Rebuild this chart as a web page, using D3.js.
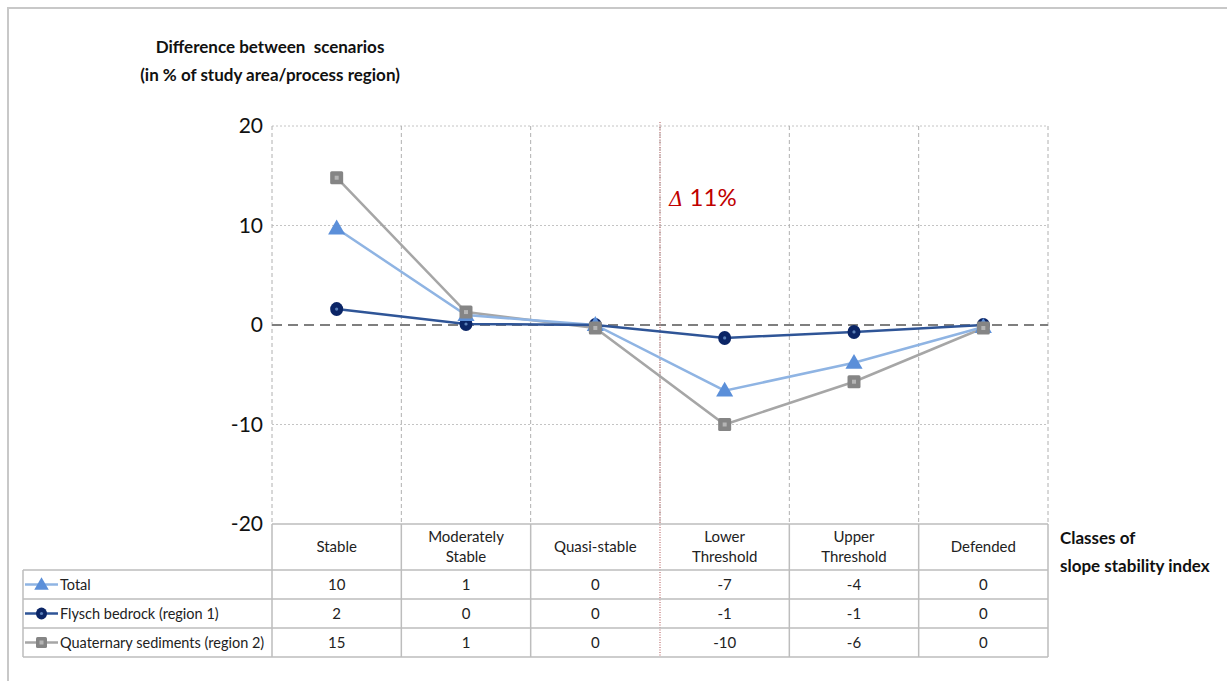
<!DOCTYPE html>
<html>
<head>
<meta charset="utf-8">
<script src="https://cdn.jsdelivr.net/npm/d3@7/dist/d3.min.js"></script>
<style>
  html, body { margin: 0; padding: 0; background: #fff; }
  svg { display: block; }
  text { font-family: Lato, "Noto Sans", "DejaVu Sans", sans-serif; }
</style>
</head>
<body>
<svg id="chart" width="1227" height="681"></svg>
<script>
// Slope stability classes along the x axis
const classes = [
  ["Stable"], ["Moderately", "Stable"], ["Quasi-stable"],
  ["Lower", "Threshold"], ["Upper", "Threshold"], ["Defended"]
];
const classKeys = ["Stable", "Moderately Stable", "Quasi-stable", "Lower Threshold", "Upper Threshold", "Defended"];

// Difference between scenarios, % of study area / process region
const totalValues      = [9.7, 1.0, 0.0, -6.6, -3.8, -0.2];
const flyschValues     = [1.6, 0.1, 0.0, -1.3, -0.7, 0.0];
const quaternaryValues = [14.8, 1.3, -0.3, -10.0, -5.7, -0.3];

const yTicks = [20, 10, 0, -10, -20];

const series = [
  { name: "Total", values: totalValues, line: "#8fb4e3", fill: "#5b8fd9", marker: "triangle" },
  { name: "Flysch bedrock (region 1)", values: flyschValues, line: "#2f5597", fill: "#0b2566", marker: "circle" },
  { name: "Quaternary sediments (region 2)", values: quaternaryValues, line: "#a6a6a6", fill: "#858585", marker: "square" }
];

const svg = d3.select("#chart");

// Outer frame
svg.append("path")
  .attr("d", "M8,681 L8,8 L1227,8")
  .attr("fill", "none").attr("stroke", "#c8c8c8").attr("stroke-width", 2);

const plot = { left: 272, right: 1048, top: 126, bottom: 524 };

const x = d3.scaleBand().domain(classKeys).range([plot.left, plot.right]);
const y = d3.scaleLinear().domain([-20, 20]).range([plot.bottom, plot.top]);

// Horizontal grid
svg.append("g").selectAll("line")
  .data(yTicks.filter(t => t !== 0 && t !== -20))
  .join("line")
  .attr("x1", plot.left).attr("x2", plot.right)
  .attr("y1", d => y(d)).attr("y2", d => y(d))
  .attr("stroke", "#c4c4c4").attr("stroke-width", 1).attr("stroke-dasharray", "2,2");

// Vertical grid at class boundaries
const bounds = classKeys.map(k => x(k)).concat([plot.right]);
svg.append("g").selectAll("line")
  .data(bounds)
  .join("line")
  .attr("x1", d => d).attr("x2", d => d)
  .attr("y1", plot.top).attr("y2", plot.bottom)
  .attr("stroke", "#b0b0b0").attr("stroke-width", 1).attr("stroke-dasharray", "4,3");

// Y axis tick labels
svg.append("g").selectAll("text")
  .data(yTicks)
  .join("text")
  .attr("x", 263).attr("y", d => y(d) + 7)
  .attr("text-anchor", "end")
  .attr("font-size", 21)
  .attr("fill", "#111")
  .text(d => d);

// Zero reference line
svg.append("line")
  .attr("x1", plot.left).attr("x2", plot.right)
  .attr("y1", y(0)).attr("y2", y(0))
  .attr("stroke", "#7f7f7f").attr("stroke-width", 2).attr("stroke-dasharray", "10,6");

// Threshold separator
const sepX = x("Lower Threshold");
svg.append("line")
  .attr("x1", sepX).attr("x2", sepX)
  .attr("y1", 122).attr("y2", 656)
  .attr("stroke", "#c98a8a").attr("stroke-width", 1.5).attr("stroke-dasharray", "1,1.5");

const delta = svg.append("text")
  .attr("x", sepX + 9).attr("y", 206)
  .attr("font-size", 24).attr("fill", "#c00000");
delta.append("tspan").attr("font-family", "DejaVu Serif, serif").attr("font-style", "italic")
  .attr("font-size", 20).text("\u0394");
delta.append("tspan").text(" 11%");

// Series lines
const cx = k => x(k) + x.bandwidth() / 2;
const lineGen = d3.line().x((d, i) => cx(classKeys[i])).y(d => y(d));

function drawMarker(g, type, fill, px, py, s) {
  if (type === "triangle") {
    g.append("path")
      .attr("d", d3.symbol(d3.symbolTriangle, s * s * 0.75)())
      .attr("transform", `translate(${px},${py + 1})`)
      .attr("fill", fill);
  } else if (type === "circle") {
    g.append("ellipse").attr("cx", px).attr("cy", py).attr("rx", s / 2).attr("ry", s / 2 + 0.5).attr("fill", fill);
    g.append("circle").attr("cx", px).attr("cy", py).attr("r", 1.6).attr("fill", "#5a7fb8");
  } else {
    g.append("rect").attr("x", px - s / 2).attr("y", py - s / 2).attr("width", s).attr("height", s)
      .attr("rx", 1.5).attr("fill", fill);
    g.append("rect").attr("x", px - 2).attr("y", py - 2).attr("width", 4).attr("height", 4).attr("fill", "#b5b5b5");
  }
}

// lines back to front: quaternary, total, flysch
[series[2], series[0], series[1]].forEach(s => {
  svg.append("path")
    .datum(s.values)
    .attr("d", lineGen)
    .attr("fill", "none")
    .attr("stroke", s.line)
    .attr("stroke-width", 2.5);
});
// markers: flysch at the back, quaternary on top
[series[1], series[0], series[2]].forEach(s => {
  const g = svg.append("g");
  s.values.forEach((v, i) => drawMarker(g, s.marker, s.fill, cx(classKeys[i]), y(v), 13));
});

// Data table
const tbl = { left: 23, top: 524, header: 46, row: 29 };
const tblG = svg.append("g");
const tStroke = "#bdbdbd";
const headerBottom = tbl.top + tbl.header;
const tableBottom = headerBottom + tbl.row * series.length;

tblG.append("line").attr("x1", plot.left).attr("x2", plot.right).attr("y1", tbl.top).attr("y2", tbl.top)
  .attr("stroke", tStroke).attr("stroke-width", 1.5);
d3.range(series.length + 1).forEach(i => {
  const yy = headerBottom + i * tbl.row;
  tblG.append("line").attr("x1", tbl.left).attr("x2", plot.right).attr("y1", yy).attr("y2", yy)
    .attr("stroke", tStroke).attr("stroke-width", 1.5);
});
tblG.append("line").attr("x1", tbl.left).attr("x2", tbl.left).attr("y1", headerBottom).attr("y2", tableBottom)
  .attr("stroke", tStroke).attr("stroke-width", 1.5);
bounds.forEach(bx => {
  if (bx === sepX) return;
  tblG.append("line").attr("x1", bx).attr("x2", bx).attr("y1", tbl.top).attr("y2", tableBottom)
    .attr("stroke", tStroke).attr("stroke-width", 1.5);
});

// header labels
classes.forEach((lines, i) => {
  const t = tblG.append("text")
    .attr("x", cx(classKeys[i]))
    .attr("text-anchor", "middle")
    .attr("font-size", 15).attr("fill", "#222");
  const mid = tbl.top + tbl.header / 2;
  lines.forEach((ln, j) => {
    t.append("tspan").attr("x", cx(classKeys[i]))
      .attr("y", mid + 5 + (j - (lines.length - 1) / 2) * 20)
      .text(ln);
  });
});

// series rows
const fmt = v => { const r = Math.round(v); return r === 0 ? "0" : String(r); };
series.forEach((s, r) => {
  const ym = headerBottom + r * tbl.row + tbl.row / 2;
  tblG.append("line").attr("x1", 25).attr("x2", 58).attr("y1", ym).attr("y2", ym)
    .attr("stroke", s.line).attr("stroke-width", 2.5);
  drawMarker(tblG, s.marker, s.fill, 41.5, ym, 11);
  tblG.append("text").attr("x", 60).attr("y", ym + 5)
    .attr("font-size", 14.5).attr("fill", "#222").text(s.name);
  s.values.forEach((v, i) => {
    tblG.append("text").attr("x", cx(classKeys[i])).attr("y", ym + 5)
      .attr("text-anchor", "middle").attr("font-size", 15).attr("fill", "#222")
      .text(fmt(v));
  });
});

// Titles
const title = svg.append("text").attr("text-anchor", "middle").attr("font-size", 17)
  .attr("font-weight", "bold").attr("fill", "#111");
title.append("tspan").attr("x", 270).attr("y", 53).text("Difference between  scenarios").attr("xml:space", "preserve");
title.append("tspan").attr("x", 270).attr("y", 81).text("(in % of study area/process region)");

const xt = svg.append("text").attr("font-size", 17).attr("font-weight", "bold").attr("fill", "#111");
xt.append("tspan").attr("x", 1060).attr("y", 544).text("Classes of");
xt.append("tspan").attr("x", 1060).attr("y", 572).text("slope stability index");
</script>
</body>
</html>
